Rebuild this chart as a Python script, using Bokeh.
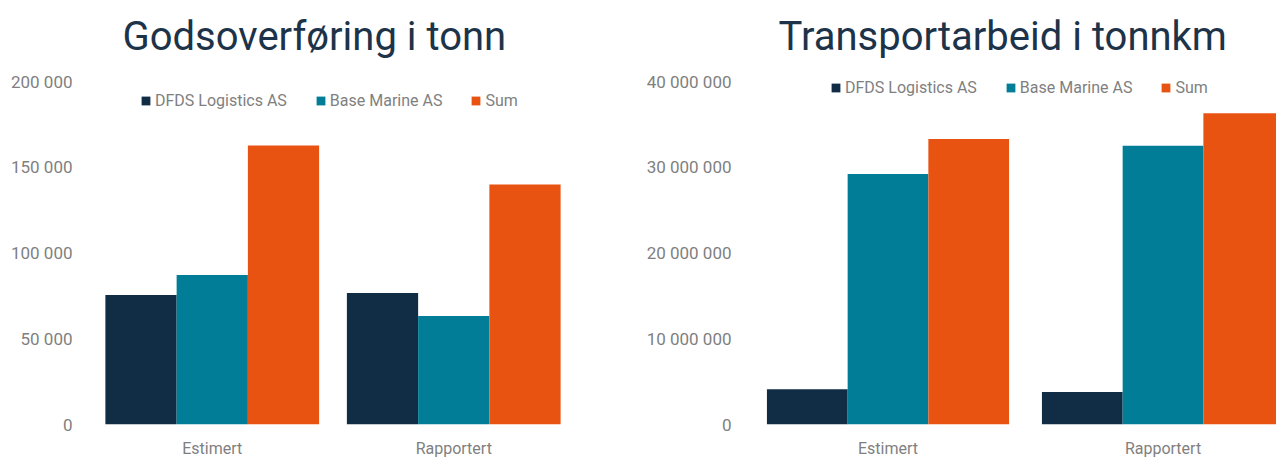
from bokeh.plotting import figure
from bokeh.models import FixedTicker, Label, ColumnDataSource
from bokeh.layouts import row
from bokeh.embed import file_html
from bokeh.resources import INLINE
from bokeh.transform import dodge

# ---- data ----
categories = ["Estimert", "Rapportert"]
series = ["DFDS Logistics AS", "Base Marine AS", "Sum"]
colors = ["#112d45", "#017d97", "#e95312"]

tonn_dfds = [75500, 76700]
tonn_base = [87200, 63300]
tonn_sum = [162700, 140000]
tonn_ticks = [0, 50000, 100000, 150000, 200000]

tkm_dfds = [4100000, 3800000]
tkm_base = [29200000, 32500000]
tkm_sum = [33300000, 36300000]
tkm_ticks = [0, 10000000, 20000000, 30000000, 40000000]

FONT = "Roboto"
GRAY = "#7f7f7f"
TITLE_COLOR = "#1d3349"

FRAME_H = 424      # full frame height (title area sits inside the frame)
AXIS_H = 343       # pixel height from 0 to the top tick


def fmt(v):
    return f"{v:,}".replace(",", " ")


def make_chart(title, vals, ticks, frame_w, mb_left, mb_right, x_end, bar_w,
               title_offset, legend_x, legend_y):
    xs = list(range(len(categories)))
    src = ColumnDataSource(dict(x=xs, a=vals[0], b=vals[1], c=vals[2]))
    y_end = ticks[-1] * FRAME_H / AXIS_H
    p = figure(frame_width=frame_w, frame_height=FRAME_H, output_backend="svg",
               toolbar_location=None, x_range=(-0.5, x_end),
               y_range=(0, y_end),
               min_border_left=mb_left, min_border_right=mb_right,
               min_border_top=0, min_border_bottom=30)
    p.add_layout(Label(x=-0.5, y=ticks[-1], x_offset=title_offset, y_offset=45,
                       text=title, text_font=FONT, text_font_size="40px",
                       text_color=TITLE_COLOR, text_baseline="alphabetic",
                       text_align="left"))
    for i, col in enumerate(["a", "b", "c"]):
        p.vbar(x=dodge("x", (i - 1) * bar_w), top=col, width=bar_w,
               source=src, color=colors[i], line_color=None,
               legend_label=series[i])
    p.xgrid.visible = False
    p.ygrid.visible = False
    p.outline_line_color = None
    p.background_fill_color = "white"
    p.border_fill_color = "white"

    p.yaxis.ticker = FixedTicker(ticks=ticks)
    p.yaxis.major_label_overrides = {t: fmt(t) for t in ticks}
    p.xaxis.ticker = FixedTicker(ticks=xs)
    p.xaxis.major_label_overrides = {i: c for i, c in enumerate(categories)}
    for ax in (p.xaxis, p.yaxis):
        ax.axis_line_color = None
        ax.major_tick_line_color = None
        ax.minor_tick_line_color = None
        ax.major_tick_out = 0
        ax.major_tick_in = 0
        ax.minor_tick_out = 0
        ax.minor_tick_in = 0
        ax.major_label_text_font = FONT
        ax.major_label_text_color = GRAY
    p.yaxis.major_label_text_font_size = "17px"
    p.yaxis.major_label_standoff = 19
    p.xaxis.major_label_text_font_size = "16px"
    p.xaxis.major_label_standoff = 14

    lg = p.legend[0]
    lg.orientation = "horizontal"
    lg.location = (legend_x, legend_y)
    lg.border_line_color = None
    lg.background_fill_alpha = 0
    lg.padding = 0
    lg.margin = 0
    lg.spacing = 28
    lg.glyph_width = 11
    lg.glyph_height = 11
    lg.label_height = 16
    lg.label_standoff = 4
    lg.label_text_font = FONT
    lg.label_text_font_size = "16px"
    lg.label_text_color = GRAY
    return p


p1 = make_chart("Godsoverføring i tonn", [tonn_dfds, tonn_base, tonn_sum],
                tonn_ticks, 483, 91, 56, 1.5, 0.295, 31, 49, 314)
p2 = make_chart("Transportarbeid i tonnkm", [tkm_dfds, tkm_base, tkm_sum],
                tkm_ticks, 526, 120, 0, 1.4127, 0.2935, 28, 80, 327)

layout = row(p1, p2, spacing=0)
open("out.html", "w").write(file_html(layout, INLINE))
